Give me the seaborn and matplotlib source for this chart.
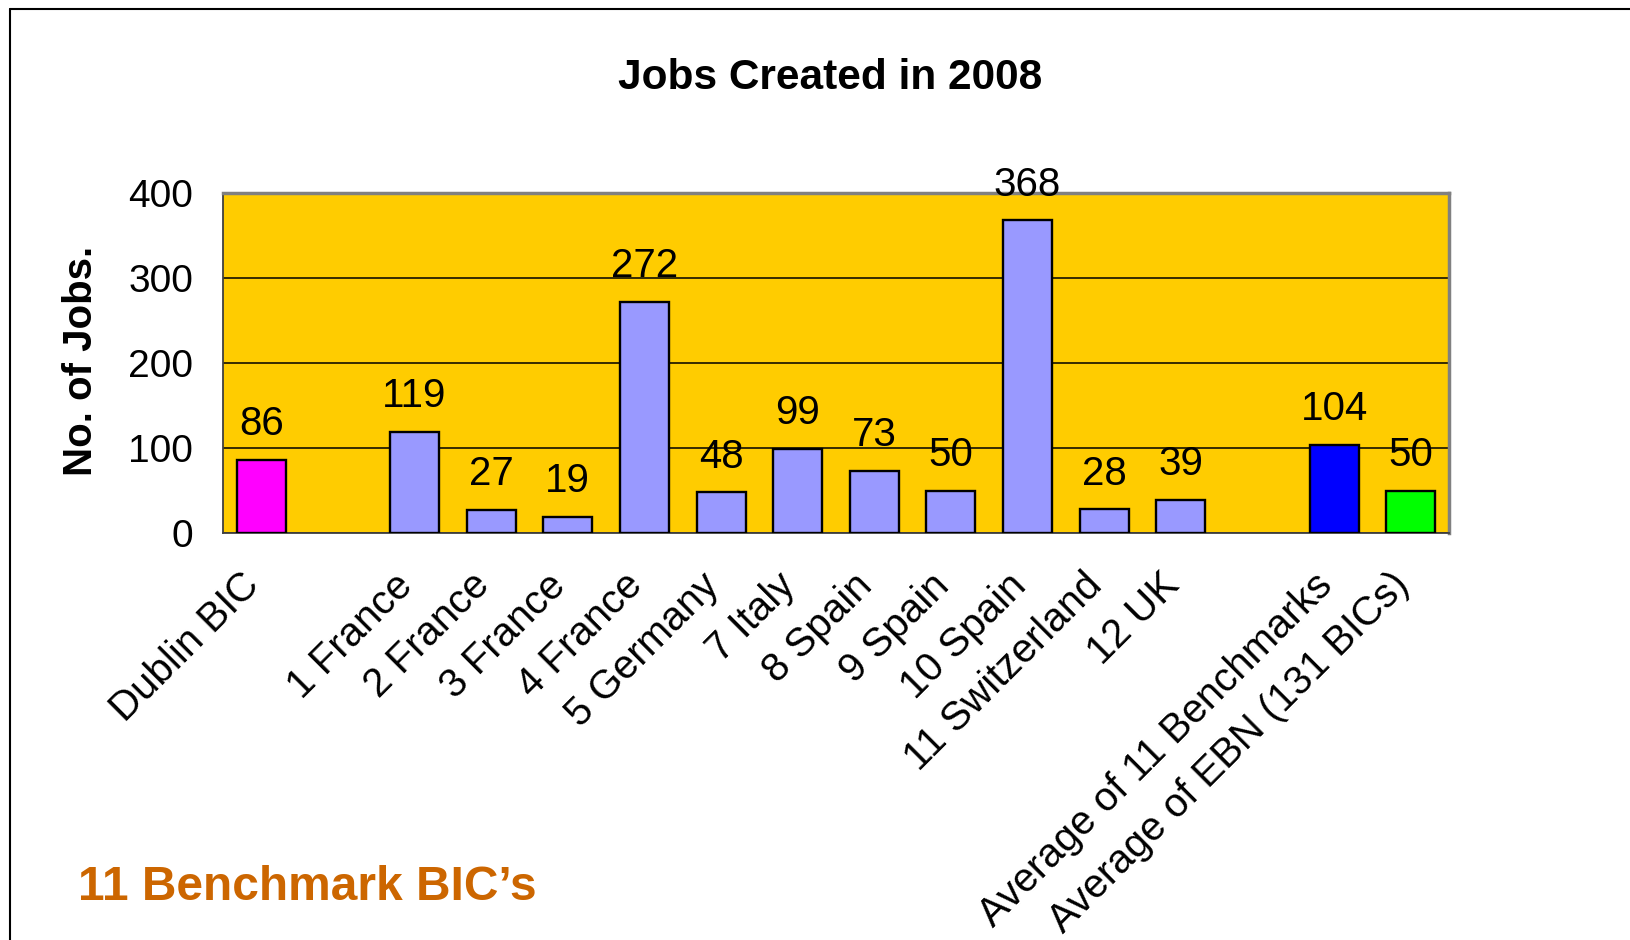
import matplotlib
matplotlib.use("Agg")
import matplotlib.pyplot as plt
from matplotlib.lines import Line2D
import pandas as pd
import seaborn as sns

# data
categories = ["Dublin BIC", "1 France", "2 France", "3 France", "4 France",
              "5 Germany", "7 Italy", "8 Spain", "9 Spain", "10 Spain",
              "11 Switzerland", "12 UK", "Average of 11 Benchmarks",
              "Average of EBN (131 BICs)"]
jobs = [86, 119, 27, 19, 272, 48, 99, 73, 50, 368, 28, 39, 104, 50]
# slot order on the axis, the blanks are empty gaps
slot_order = ["Dublin BIC", " ", "1 France", "2 France", "3 France", "4 France",
              "5 Germany", "7 Italy", "8 Spain", "9 Spain", "10 Spain",
              "11 Switzerland", "12 UK", "  ", "Average of 11 Benchmarks",
              "Average of EBN (131 BICs)"]
y_ticks = [0, 100, 200, 300, 400]

bar_colors = {c: "#9999FF" for c in categories}
bar_colors["Dublin BIC"] = "#FF00FF"
bar_colors["Average of 11 Benchmarks"] = "#0000FF"
bar_colors["Average of EBN (131 BICs)"] = "#00FF00"

df = pd.DataFrame({"label": categories, "jobs": jobs})

sns.set_style("white")
plt.rcParams["font.family"] = ["Liberation Sans", "DejaVu Sans"]
plt.rcParams["text.color"] = "black"
plt.rcParams["xtick.color"] = "black"
plt.rcParams["ytick.color"] = "black"

W, H = 1631, 940
PX = 72 / 100  # points per pixel at dpi 100
fig = plt.figure(figsize=(W / 100, H / 100), dpi=100)
ax = fig.add_axes([223 / W, 1 - 533 / H, (1449 - 223) / W, (533 - 193) / H])
ax.set_facecolor("#FFCC00")

sns.barplot(data=df, x="label", y="jobs", hue="label", order=slot_order,
            palette=bar_colors, saturation=1, legend=False, width=0.64,
            edgecolor="black", linewidth=1.7, ax=ax, zorder=3)

# value labels
for cont in ax.containers:
    ax.bar_label(cont, fmt="%d", padding=12, fontsize=29, color="black")

ax.set_ylim(0, 400)
ax.set_xlim(-0.5, len(slot_order) - 0.5)
ax.set_yticks(y_ticks)
ax.set_yticklabels([str(v) for v in y_ticks], fontsize=28)
ax.yaxis.grid(True, color="black", linewidth=1.1, zorder=1)
ax.set_axisbelow(True)

# category labels at centres, tick marks at slot boundaries
ax.set_xticks(range(len(slot_order)))
ax.set_xticklabels([s.strip() for s in slot_order], rotation=45, ha="right",
                   va="baseline", rotation_mode="anchor", fontsize=29)
ax.set_xticks([i - 0.5 for i in range(len(slot_order) + 1)], minor=True)
ax.tick_params(axis="x", which="major", length=0, pad=39)
ax.tick_params(axis="x", which="minor", length=14 * PX, width=1.1,
               color="#404040", direction="out")
ax.tick_params(axis="y", length=12 * PX, width=1.1, color="#404040",
               direction="out", pad=18 * PX)
ax.set_xlabel("")
ax.set_ylabel("")

for side in ["top", "right"]:
    ax.spines[side].set_color("#808080")
    ax.spines[side].set_linewidth(2.5)
for side in ["left", "bottom"]:
    ax.spines[side].set_color("#404040")
    ax.spines[side].set_linewidth(1.3)

fig.text(830 / W, 1 - 78 / H, "Jobs Created in 2008", ha="center", va="center",
         fontsize=30.5, fontweight="bold")
fig.text(81 / W, 1 - 361 / H, "No. of Jobs.", ha="center", va="center",
         rotation=90, fontsize=29, fontweight="bold")
fig.text(78 / W, 1 - 900 / H, "11 Benchmark BIC\u2019s", ha="left",
         va="baseline", fontsize=34.5, fontweight="bold", color="#CC6600")

# slide frame lines
fig.add_artist(Line2D([10 / W, 1], [1 - 9 / H, 1 - 9 / H], color="black", lw=1.5))
fig.add_artist(Line2D([10 / W, 10 / W], [0, 1 - 9 / H], color="black", lw=1.5))

fig.savefig("out.png", dpi=100)
